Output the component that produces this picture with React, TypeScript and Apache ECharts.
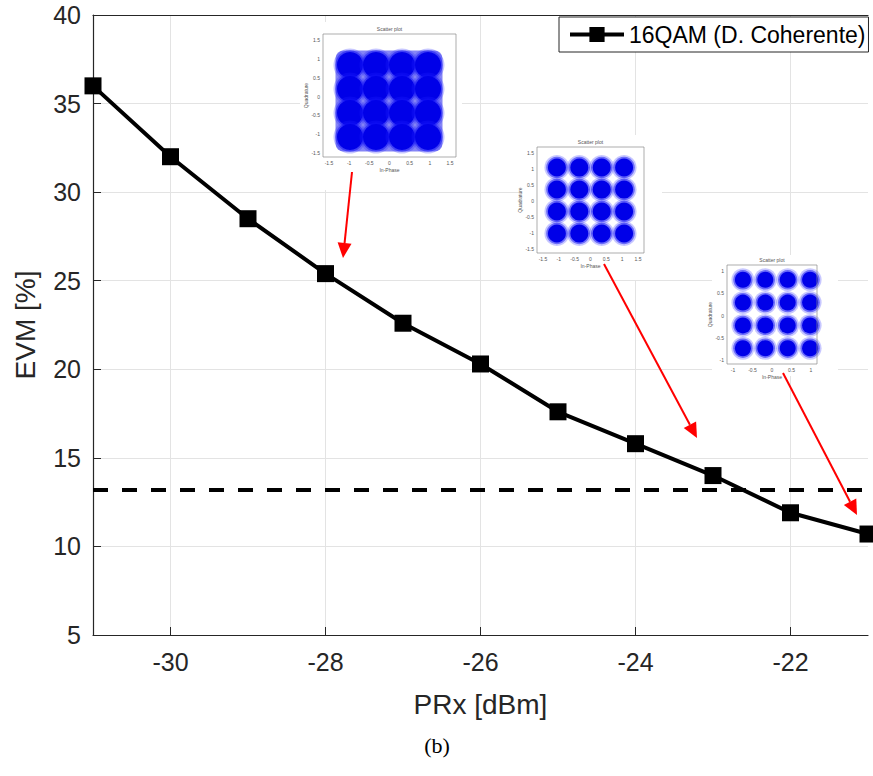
import React, { useEffect, useRef } from "react";
import * as echarts from "echarts";

// ---- data ----
const prx = [-31, -30, -29, -28, -27, -26, -25, -24, -23, -22, -21];
const evm = [36.0, 32.0, 28.5, 25.4, 22.6, 20.3, 17.6, 15.8, 14.0, 11.9, 10.7];
const evmLimit = 13.2;
const xTickValues = [-30, -28, -26, -24, -22];
const seriesName = "16QAM (D. Coherente)";
const xAxisTitle = "PRx [dBm]";
const yAxisTitle = "EVM [%]";
const caption = "(b)";
const qamLevels = [-3, -1, 1, 3];
const insetTicksWide = ["1.5", "1", "0.5", "0", "-0.5", "-1", "-1.5"];
const insetTicksNarrow = ["1", "0.5", "0", "-0.5", "-1"];

type InsetCfg = {
  bg: number[];
  x: number; y: number; w: number; h: number;
  cx: number; cy: number; sx: number; sy: number; r: number;
  noisy: boolean; ticks: string[];
};

const insets: InsetCfg[] = [
  { bg: [300, 22, 162, 168], x: 323, y: 34, w: 133, h: 123, cx: 389, cy: 101, sx: 13, sy: 12, r: 13.5, noisy: true, ticks: insetTicksWide },
  { bg: [519, 135, 143, 145], x: 537, y: 147, w: 107, h: 106, cx: 590.5, cy: 200.5, sx: 11.2, sy: 11, r: 9.5, noisy: false, ticks: insetTicksWide },
  { bg: [712, 255, 126, 121], x: 727, y: 265, w: 90, h: 99, cx: 776.5, cy: 314, sx: 11.2, sy: 11.4, r: 8.5, noisy: false, ticks: insetTicksNarrow },
];

const arrows = [
  [352, 172, 343, 258],
  [604, 264, 697, 438],
  [783, 373, 857, 515],
];

const Z = 50;

function buildInset(c: InsetCfg): any[] {
  const els: any[] = [];
  els.push({
    type: "rect", z: Z,
    shape: { x: c.bg[0], y: c.bg[1], width: c.bg[2], height: c.bg[3] },
    style: { fill: "#ffffff" },
  });
  if (c.noisy) {
    els.push({
      type: "rect", z: Z,
      shape: {
        x: c.cx - 3 * c.sx - c.r - 1,
        y: c.cy - 3 * c.sy - c.r - 1,
        width: 6 * c.sx + 2 * c.r + 2,
        height: 6 * c.sy + 2 * c.r + 2,
        r: 8,
      },
      style: { fill: "#3535ee", opacity: 0.6 },
    });
  }
  for (const a of qamLevels) {
    for (const b of qamLevels) {
      const px = c.cx + a * c.sx;
      const py = c.cy + b * c.sy;
      els.push({ type: "circle", z: Z, shape: { cx: px, cy: py, r: c.r + 3 }, style: { fill: "#2020ff", opacity: 0.25 } });
      els.push({ type: "circle", z: Z, shape: { cx: px, cy: py, r: c.r + 1.2 }, style: { fill: "#1010f5", opacity: 0.5 } });
      els.push({ type: "circle", z: Z, shape: { cx: px, cy: py, r: c.r - 0.5 }, style: { fill: "#0000e8" } });
    }
  }
  els.push({
    type: "rect", z: Z,
    shape: { x: c.x, y: c.y, width: c.w, height: c.h },
    style: { fill: "none", stroke: "#8a8a8a", lineWidth: 0.7 },
  });
  const n = c.ticks.length;
  for (let i = 0; i < n; i++) {
    const ty = c.y + 6 + (i * (c.h - 10)) / (n - 1);
    els.push({
      type: "text", z: Z,
      style: { text: c.ticks[i], x: c.x - 3, y: ty, fontSize: 5, fill: "#555", align: "right", verticalAlign: "middle", fontFamily: "Liberation Sans" },
    });
    const tx = c.x + 6 + (i * (c.w - 12)) / (n - 1);
    els.push({
      type: "text", z: Z,
      style: { text: c.ticks[n - 1 - i], x: tx, y: c.y + c.h + 3, fontSize: 5, fill: "#555", align: "center", verticalAlign: "top", fontFamily: "Liberation Sans" },
    });
  }
  els.push({
    type: "text", z: Z,
    style: { text: "Scatter plot", x: c.x + c.w / 2, y: c.y - 3, fontSize: 5, fill: "#555", align: "center", verticalAlign: "bottom", fontFamily: "Liberation Sans" },
  });
  els.push({
    type: "text", z: Z,
    style: { text: "In-Phase", x: c.x + c.w / 2, y: c.y + c.h + 10, fontSize: 5, fill: "#555", align: "center", verticalAlign: "top", fontFamily: "Liberation Sans" },
  });
  els.push({
    type: "text", z: Z,
    rotation: Math.PI / 2,
    x: c.x - 17,
    y: c.y + c.h / 2,
    style: { text: "Quadrature", x: 0, y: 0, fontSize: 5, fill: "#555", align: "center", verticalAlign: "middle", fontFamily: "Liberation Sans" },
  });
  return els;
}

function buildArrow(a: number[]): any[] {
  const [x1, y1, x2, y2] = a;
  const dx = x2 - x1, dy = y2 - y1;
  const len = Math.sqrt(dx * dx + dy * dy);
  const ux = dx / len, uy = dy / len;
  const hl = 15, hw = 7;
  const bx = x2 - ux * hl, by = y2 - uy * hl;
  return [
    { type: "line", z: 60, shape: { x1, y1, x2: bx, y2: by }, style: { stroke: "#ff0000", lineWidth: 2 } },
    {
      type: "polygon", z: 60,
      shape: { points: [[x2, y2], [bx - uy * hw, by + ux * hw], [bx + uy * hw, by - ux * hw]] },
      style: { fill: "#ff0000" },
    },
  ];
}

export default function App() {
  const ref = useRef<HTMLDivElement>(null);
  useEffect(() => {
    if (!ref.current) return;
    const chart = echarts.init(ref.current, null, { renderer: "svg" });
    const axisColor = "#262626";
    const font = "Liberation Sans";
    chart.setOption({
      animation: false,
      backgroundColor: "#ffffff",
      grid: { left: 93, right: 5, top: 15, bottom: 141, containLabel: false },
      legend: {
        data: [seriesName],
        left: 559,
        top: 17,
        padding: [6, 3, 6, 9],
        itemWidth: 54,
        itemHeight: 19,
        itemGap: 6,
        backgroundColor: "#ffffff",
        borderColor: axisColor,
        borderWidth: 1,
        lineStyle: { width: 4 },
        textStyle: { fontSize: 23, color: "#000", fontFamily: font },
        z: 70,
      },
      xAxis: [
        {
          type: "value",
          min: -31,
          max: -21,
          axisLine: { show: true, onZero: false, lineStyle: { color: axisColor, width: 1.2 } },
          axisTick: { show: true, inside: true, length: 8, customValues: xTickValues, lineStyle: { color: axisColor } },
          axisLabel: { customValues: xTickValues, fontSize: 25, color: axisColor, margin: 14, fontFamily: font },
          splitLine: { show: true, lineStyle: { color: "#e3e3e3", width: 1 } },
          name: xAxisTitle,
          nameLocation: "middle",
          nameGap: 55,
          nameTextStyle: { fontSize: 28, color: axisColor, fontFamily: font },
        },
        {
          type: "value",
          position: "top",
          min: -31,
          max: -21,
          axisLine: { show: true, onZero: false, lineStyle: { color: axisColor, width: 1.2 } },
          axisTick: { show: false },
          axisLabel: { show: false },
          splitLine: { show: false },
        },
      ],
      yAxis: {
        type: "value",
        min: 5,
        max: 40,
        interval: 5,
        axisLine: { show: true, onZero: false, lineStyle: { color: axisColor, width: 1.2 } },
        axisTick: { show: true, inside: true, length: 8, lineStyle: { color: axisColor } },
        axisLabel: { fontSize: 25, color: axisColor, margin: 12, fontFamily: font },
        splitLine: { show: true, lineStyle: { color: "#e3e3e3", width: 1 } },
        name: yAxisTitle,
        nameLocation: "middle",
        nameRotate: 90,
        nameGap: 54,
        nameTextStyle: { fontSize: 28, color: axisColor, fontFamily: font },
      },
      series: [
        {
          name: seriesName,
          type: "line",
          data: prx.map((x, i) => [x, evm[i]]),
          symbol: "rect",
          symbolSize: 17,
          lineStyle: { color: "#000", width: 4 },
          itemStyle: { color: "#000" },
          clip: false,
          z: 10,
          markLine: {
            silent: true,
            symbol: "none",
            label: { show: false },
            lineStyle: { color: "#000", width: 4, type: [15, 14] },
            data: [{ yAxis: evmLimit }],
            z: 5,
          },
        },
      ],
      graphic: [
        ...insets.flatMap(buildInset),
        ...arrows.flatMap(buildArrow),
        {
          type: "text",
          z: 60,
          style: { text: caption, x: 437, y: 745, fontSize: 22, fill: "#000", align: "center", verticalAlign: "middle", fontFamily: "Liberation Serif" },
        },
      ],
    });
    return () => chart.dispose();
  }, []);
  return (
    <div
      ref={ref}
      style={{ position: "fixed", left: 0, top: 0, width: 873, height: 776, background: "#fff" }}
    />
  );
}
